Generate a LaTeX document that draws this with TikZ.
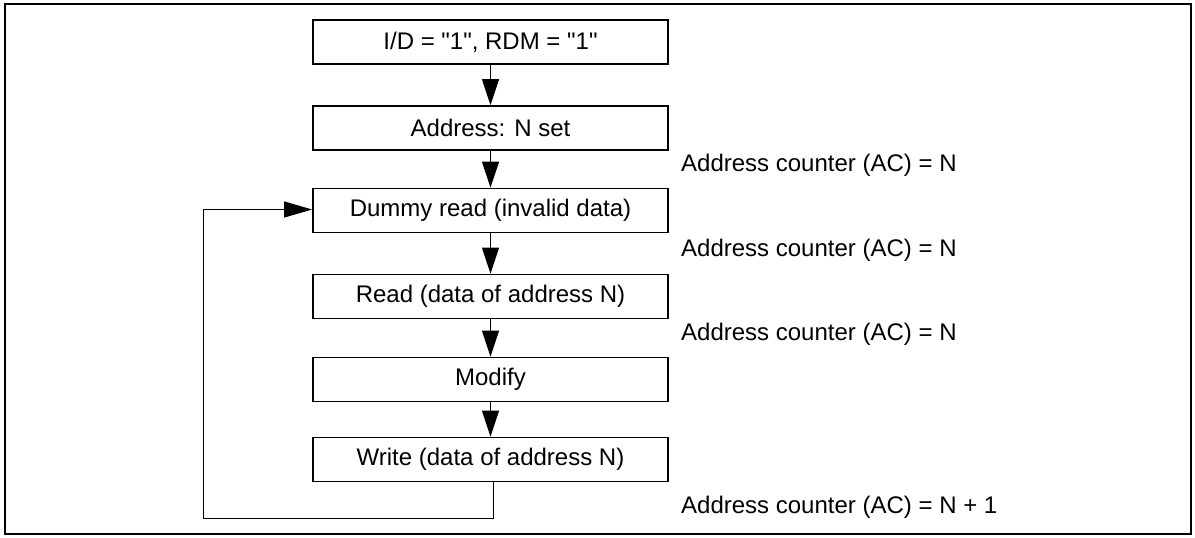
\documentclass[tikz,border=0pt]{standalone}
\usepackage{fontspec}
\setmainfont{Liberation Sans}
\usetikzlibrary{arrows.meta}
\begin{document}
\begin{tikzpicture}[x=1pt,y=-1pt,
  stepbox/.style={draw,line width=1.8pt,minimum width=355pt,minimum height=44pt,inner sep=0pt,
    font=\fontsize{24}{28}\selectfont},
  lbl/.style={anchor=west,inner sep=0pt,font=\fontsize{24}{28}\selectfont},
  conn/.style={line width=1pt,-{Triangle[length=26pt,width=17pt]}},
  plain/.style={line width=1pt}]
\useasboundingbox (0,0) rectangle (1195,538);
\draw[line width=1.5pt] (5,4) rectangle (1191,534);
\node[stepbox] (b1) at (490.5,42) {I/D = \textquotedbl 1\textquotedbl, RDM = \textquotedbl 1\textquotedbl};
\node[stepbox] (b2) at (490.5,128) {Address: N set};
\node[stepbox] (b3) at (490.5,210.5) {Dummy read (invalid data)};
\node[stepbox] (b4) at (490.5,296.5) {Read (data of address N)};
\node[stepbox] (b5) at (490.5,379.5) {Modify};
\node[stepbox] (b6) at (490.5,459.5) {Write (data of address N)};
\draw[conn] (b1) -- (b2);
\draw[conn] (b2) -- (b3);
\draw[conn] (b3) -- (b4);
\draw[conn] (b4) -- (b5);
\draw[conn] (b5) -- (b6);
\coordinate (c1) at (493,518);
\coordinate (c2) at (203,518);
\coordinate (c3) at (203,209.5);
\draw[plain] (b6.south -| c1) -- (c1) -- (c2) -- (c3);
\draw[line width=1pt,-{Triangle[length=28pt,width=16pt]}] (c3) -- (b3.west |- c3);
\node[lbl] (l1) at (681,165) {Address counter (AC) = N};
\node[lbl] (l2) at (681,250) {Address counter (AC) = N};
\node[lbl] (l3) at (681,334) {Address counter (AC) = N};
\node[lbl] (l4) at (681,507) {Address counter (AC) = N + 1};
\end{tikzpicture}
\end{document}
